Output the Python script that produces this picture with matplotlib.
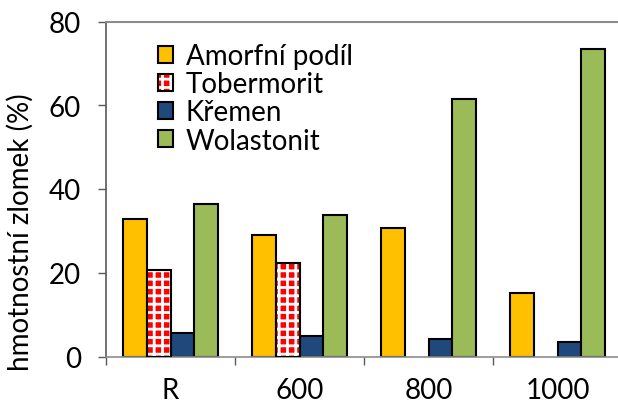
import numpy as np
import matplotlib
matplotlib.use('Agg')
import matplotlib.pyplot as plt
from matplotlib.patches import Patch

# data ------------------------------------------------------------------

categories = ['R', '600', '800', '1000']
amorfni = [32.8, 28.9, 30.8, 15.2]
tobermorit = [20.6, 22.3, 0.0, 0.0]
kremen = [5.6, 5.0, 4.2, 3.5]
wolastonit = [36.5, 33.9, 61.5, 73.4]

series_names = ['Amorfní podíl', 'Tobermorit', 'Křemen', 'Wolastonit']
series_colors = ['#FFC000', '#FF0000', '#1F497D', '#9BBB59']

# plot ------------------------------------------------------------------

plt.rcParams['font.family'] = ['Lato', 'DejaVu Sans']
plt.rcParams['font.size'] = 20
plt.rcParams['hatch.linewidth'] = 2.0

fig = plt.figure(figsize=(6.18, 4.06), dpi=100)
ax = fig.add_axes([106 / 618, 48.5 / 406, 516 / 618, 335 / 406])

x = np.arange(len(categories))
w = 0.184
edge = dict(edgecolor='black', linewidth=1.5)

all_series = [amorfni, tobermorit, kremen, wolastonit]
for i, (vals, col) in enumerate(zip(all_series, series_colors)):
    vals = np.array(vals)
    pos = x + (i - 1.5) * w
    keep = vals > 0
    if i == 1:
        # red fill with white grid, then black outline on top
        ax.bar(pos[keep], vals[keep], w, color=col, edgecolor='white',
               linewidth=0, hatch='++', zorder=2)
        ax.bar(pos[keep], vals[keep], w, fill=False, zorder=3, **edge)
    else:
        ax.bar(pos[keep], vals[keep], w, color=col, zorder=2, **edge)

ax.set_xlim(-0.5, len(categories) - 0.5)
ax.set_ylim(0, 80)
ax.set_yticks([0, 20, 40, 60, 80])
ax.set_xticks(x)
ax.set_xticklabels(categories)
ax.set_xticks(np.arange(len(categories) + 1) - 0.5, minor=True)
ax.tick_params(axis='x', which='major', length=0, pad=15)
ax.tick_params(axis='x', which='minor', length=6, width=1, color='#595959')
ax.tick_params(axis='y', length=6, width=1, color='#595959', pad=12)

ax.spines['right'].set_visible(False)
ax.spines['top'].set_color('#8C8C8C')
ax.spines['top'].set_linewidth(1.5)
ax.spines['bottom'].set_color('#8C8C8C')
ax.spines['bottom'].set_linewidth(1.2)
ax.spines['left'].set_color('#595959')
ax.spines['left'].set_linewidth(1.2)

ax.set_ylabel('hmotnostní zlomek (%)')
ax.yaxis.set_label_coords(-0.14, 0.375)

# legend
handles = [
    Patch(facecolor=series_colors[0], **edge),
    (Patch(facecolor=series_colors[1], edgecolor='white', linewidth=0, hatch='++'),
     Patch(fill=False, **edge)),
    Patch(facecolor=series_colors[2], **edge),
    Patch(facecolor=series_colors[3], **edge),
]
ax.legend(handles, series_names, loc='upper left', frameon=False,
          bbox_to_anchor=(158 / 618, 1 - 44 / 406), bbox_transform=fig.transFigure,
          borderaxespad=0, borderpad=0, labelspacing=0.08,
          handlelength=0.55, handleheight=0.55, handletextpad=0.45)

fig.savefig('out.png', dpi=100)
